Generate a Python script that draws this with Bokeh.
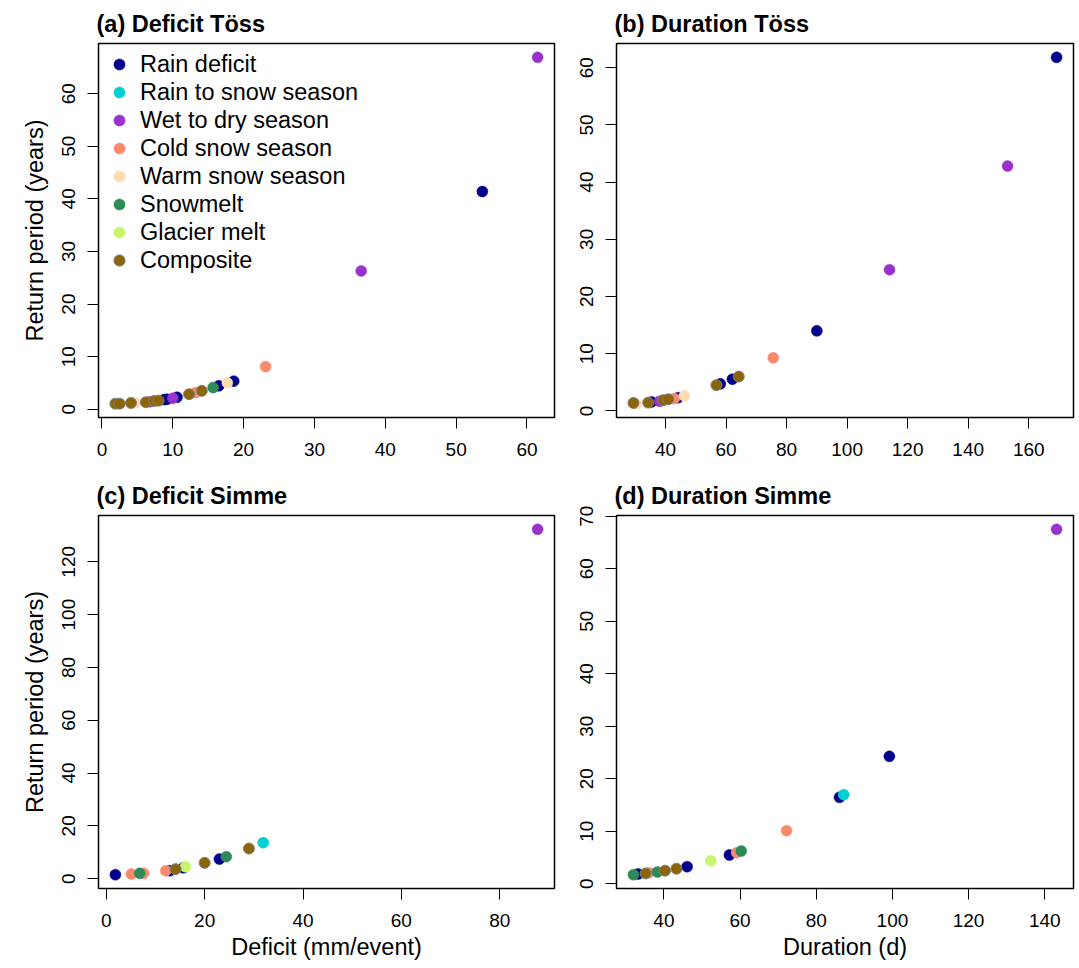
import math
from bokeh.plotting import figure
from bokeh.layouts import gridplot
from bokeh.models import Range1d, FixedTicker, Legend, LegendItem, ColumnDataSource
from bokeh.embed import file_html
from bokeh.resources import INLINE

FONT = "Liberation Sans"

categories = ["Rain deficit", "Rain to snow season", "Wet to dry season",
              "Cold snow season", "Warm snow season", "Snowmelt",
              "Glacier melt", "Composite"]
codes = ["RD", "RS", "WD", "CS", "WS", "SM", "GM", "CO"]
colors = ["#00008B", "#00CED1", "#9932CC", "#FA8A6C", "#FFDCAF",
          "#2E8B57", "#C8F56E", "#8B6508"]

# (a) Deficit Töss
toess_def_x = [1.9, 2.5, 4.1, 4.8, 6.2, 6.8, 7.4, 8.0, 8.8, 9.2, 10.0, 10.6,
               12.3, 13.2, 14.1, 15.7, 16.5, 17.7, 18.6, 23.1, 36.6, 53.7, 61.5]
toess_def_rp = [1.07, 1.07, 1.2, 1.2, 1.34, 1.45, 1.59, 1.64, 1.84, 1.91, 2.1, 2.29,
                2.87, 3.17, 3.5, 4.13, 4.46, 5.03, 5.35, 8.1, 26.3, 41.4, 66.9]
toess_def_type = ["CO", "CO", "CO", "WS", "CO", "WD", "CO", "CO", "RD", "RD", "WD", "RD",
                  "CO", "CS", "CO", "SM", "RD", "WS", "RD", "CS", "WD", "RD", "WD"]

# (b) Duration Töss
toess_dur_x = [29.4, 30.4, 34.3, 35.4, 38.1, 39.2, 40.9, 42.9, 44.2, 46.2,
               56.8, 58.1, 62.1, 64.2, 75.6, 90.0, 114.0, 153.0, 169.2]
toess_dur_rp = [1.40, 1.28, 1.46, 1.58, 1.70, 1.88, 2.05, 2.16, 2.33, 2.63,
                4.51, 4.74, 5.56, 6.02, 9.3, 14.0, 24.7, 42.8, 61.8]
toess_dur_type = ["CO", "WS", "CO", "RD", "WD", "CO", "CO", "CS", "RD", "WS",
                  "CO", "RD", "RD", "CO", "CS", "RD", "WD", "WD", "RD"]

# (c) Deficit Simme
simme_def_x = [1.85, 5.1, 6.8, 7.6, 12.1, 12.9, 14.1, 15.7, 16.1, 20.0,
               23.0, 24.4, 29.0, 31.9, 87.7]
simme_def_rp = [1.5, 1.75, 2.0, 2.0, 3.0, 3.0, 3.6, 4.1, 4.5, 6.0,
                7.4, 8.3, 11.4, 13.6, 132.3]
simme_def_type = ["RD", "CS", "SM", "CS", "CS", "RD", "CO", "RD", "GM", "CO",
                  "RD", "SM", "CO", "RS", "WD"]

# (d) Duration Simme
simme_dur_x = [32.0, 33.2, 35.2, 36.1, 38.3, 40.3, 43.3, 46.1, 52.3, 57.2,
               59.1, 60.3, 72.2, 86.1, 87.2, 99.2, 143.1]
simme_dur_rp = [1.72, 1.85, 1.96, 2.10, 2.23, 2.48, 2.86, 3.24, 4.38, 5.47,
                5.91, 6.23, 10.1, 16.45, 16.96, 24.26, 67.5]
simme_dur_type = ["SM", "RD", "CO", "CS", "SM", "CO", "CO", "RD", "GM", "RD",
                  "CS", "SM", "CS", "RD", "RS", "RD", "WD"]

ticks_a_x = [0, 10, 20, 30, 40, 50, 60]
ticks_a_y = [0, 10, 20, 30, 40, 50, 60]
ticks_b_x = [40, 60, 80, 100, 120, 140, 160]
ticks_b_y = [0, 10, 20, 30, 40, 50, 60]
ticks_c_x = [0, 20, 40, 60, 80]
ticks_c_y = [0, 20, 40, 60, 80, 100, 120]
ticks_d_x = [40, 60, 80, 100, 120, 140]
ticks_d_y = [0, 10, 20, 30, 40, 50, 60, 70]


def padded(vals):
    lo, hi = min(vals), max(vals)
    r = hi - lo
    return Range1d(lo - 0.04 * r, hi + 0.04 * r)


def make_panel(title, xs, ys, ts, xticks, yticks, xlabel, ylabel,
               width, height, borders, legend=False):
    p = figure(width=width, height=height, x_range=padded(xs), y_range=padded(ys),
               output_backend="svg", toolbar_location=None,
               min_border_left=borders[0], min_border_right=borders[1],
               min_border_top=borders[2], min_border_bottom=borders[3])
    p.title.text = title
    p.title.text_font = FONT
    p.title.text_font_size = "23.5px"
    p.title.text_font_style = "bold"
    p.title.text_color = "black"
    p.title.align = "left"
    p.title.standoff = 14
    p.title.offset = -2
    p.grid.visible = False
    p.outline_line_color = "black"
    p.outline_line_width = 1.5
    p.background_fill_color = "white"
    p.border_fill_color = "white"

    rends = {}
    for code, cat, col in zip(codes, categories, colors):
        idx = [i for i, t in enumerate(ts) if t == code]
        if idx:
            data = dict(x=[xs[i] for i in idx], y=[ys[i] for i in idx])
        else:
            data = dict(x=[math.nan], y=[math.nan])
        src = ColumnDataSource(data)
        if code == "CO":
            r = p.scatter("x", "y", source=src, size=11, fill_color=col,
                          line_color="#808080", line_width=1)
        else:
            r = p.scatter("x", "y", source=src, size=11, fill_color=col,
                          line_color=col, line_width=0.5)
        rends[cat] = r

    for ax, ticks, label, st, lst in ((p.xaxis[0], xticks, xlabel, 14, 4),
                                      (p.yaxis[0], yticks, ylabel, 12, 12)):
        ax.ticker = FixedTicker(ticks=ticks)
        ax.axis_line_color = None
        ax.major_tick_out = 11
        ax.major_tick_in = 0
        ax.minor_tick_line_color = None
        ax.major_tick_line_color = "black"
        ax.major_label_text_font = FONT
        ax.major_label_text_font_size = "19px"
        ax.major_label_text_color = "black"
        ax.major_label_standoff = st
        if label:
            ax.axis_label = label
            ax.axis_label_text_font = FONT
            ax.axis_label_text_font_size = "23.5px"
            ax.axis_label_text_font_style = "normal"
            ax.axis_label_text_color = "black"
            ax.axis_label_standoff = lst
    p.yaxis[0].major_label_orientation = "vertical"

    if legend:
        lg = Legend(items=[LegendItem(label=c, renderers=[rends[c]]) for c in categories],
                    location="top_left", border_line_color=None,
                    background_fill_alpha=0, label_text_font=FONT,
                    label_text_font_size="23.5px", label_text_color="black",
                    glyph_width=28, glyph_height=28,
                    label_height=28, spacing=0, padding=6, margin=7,
                    label_standoff=7)
        p.add_layout(lg)
    return p


pa = make_panel("(a) Deficit Töss", toess_def_x, toess_def_rp, toess_def_type,
                ticks_a_x, ticks_a_y, None, "Return period (years)",
                568, 470, (98, 14, 43, 53), legend=True)
pb = make_panel("(b) Duration Töss", toess_dur_x, toess_dur_rp, toess_dur_type,
                ticks_b_x, ticks_b_y, None, None,
                510, 470, (48, 5, 43, 53))
pc = make_panel("(c) Deficit Simme", simme_def_x, simme_def_rp, simme_def_type,
                ticks_c_x, ticks_c_y, "Deficit (mm/event)", "Return period (years)",
                568, 497, (98, 14, 45, 79))
pd = make_panel("(d) Duration Simme", simme_dur_x, simme_dur_rp, simme_dur_type,
                ticks_d_x, ticks_d_y, "Duration (d)", None,
                510, 497, (48, 5, 45, 79))

grid = gridplot([[pa, pb], [pc, pd]], toolbar_location=None)
open("out.html", "w").write(file_html(grid, INLINE))
